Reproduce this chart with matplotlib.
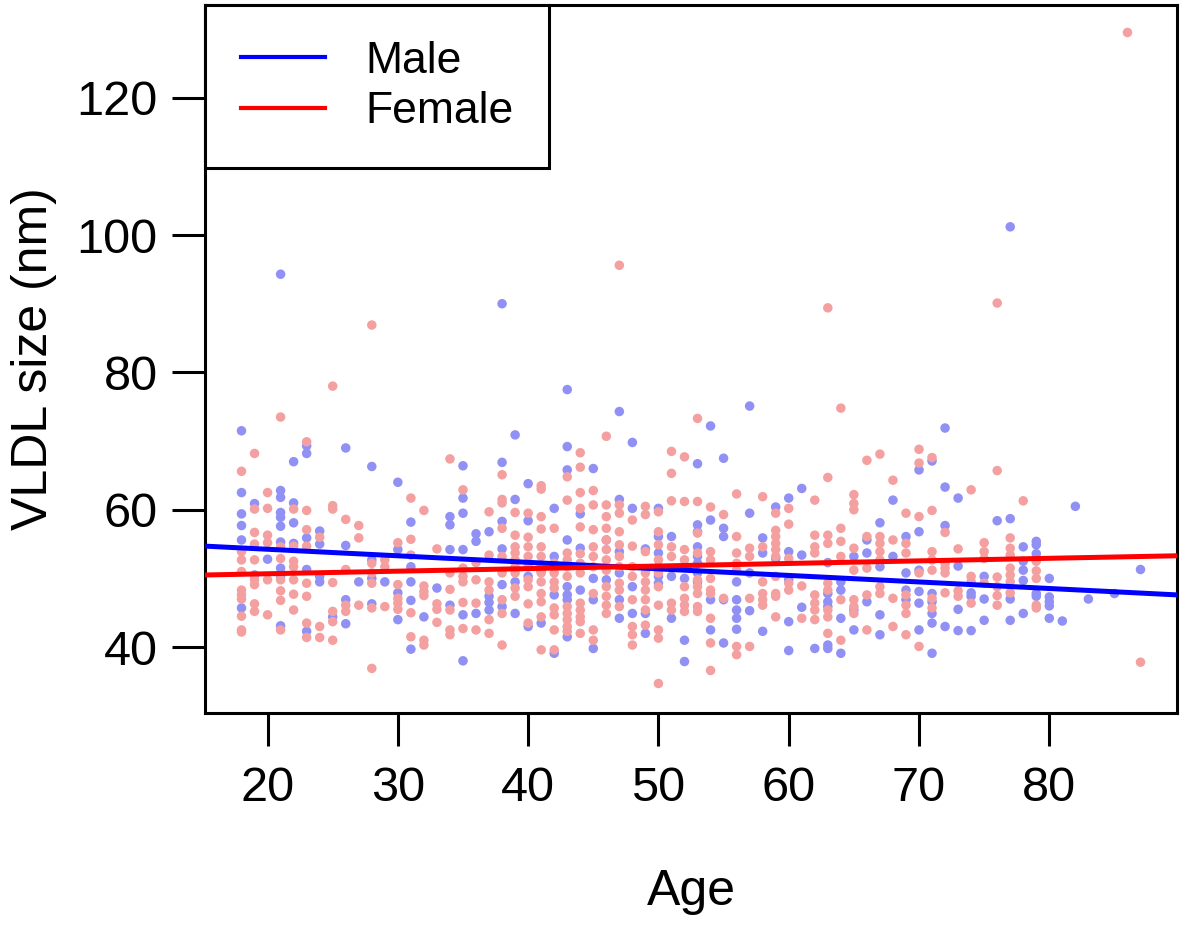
import matplotlib
matplotlib.use("Agg")
import matplotlib.pyplot as plt
from matplotlib.lines import Line2D

plt.rcParams["font.family"] = ["Liberation Sans", "DejaVu Sans"]

# VLDL size (nm) by age, one list per age
male = {
    18: [71.5, 62.5, 59.4, 57.7, 55.6, 45.7],
    19: [60.9, 50.5],
    20: [52.8],
    21: [94.3, 62.8, 61.8, 59.6, 58.9, 57.6, 55.3, 51.5, 50.3, 43.1],
    22: [67.0, 61.0, 58.1, 55.1],
    23: [69.3, 68.2, 55.9, 51.3, 42.3],
    24: [56.9, 55.0, 50.3, 49.5],
    25: [44.4],
    26: [69.0, 54.8, 46.9, 43.4],
    27: [49.5],
    28: [66.3, 52.7, 50.0, 46.3],
    29: [49.5],
    30: [64.0, 54.2, 47.9, 44.0],
    31: [58.2, 51.7, 49.5, 46.8, 39.7],
    32: [44.4],
    33: [48.6],
    34: [59.0, 57.8, 54.2, 46.1],
    35: [66.4, 61.7, 59.5, 54.2, 44.7, 38.0],
    36: [56.5, 55.4, 44.9],
    37: [56.8, 47.4, 46.5, 45.4],
    38: [90.0, 66.9, 58.3, 54.3, 49.1, 45.9],
    39: [70.9, 61.5, 49.5, 44.9],
    40: [63.8, 58.4, 50.3, 43.0],
    41: [51.0, 43.5],
    42: [60.2, 53.2, 47.6, 39.1],
    43: [77.5, 69.2, 65.8, 55.6, 48.8, 47.6, 46.9, 41.5],
    44: [59.4, 54.4, 48.3],
    45: [66.0, 50.0, 46.9, 39.8],
    46: [55.6, 49.8],
    47: [74.3, 61.5, 53.9, 50.8, 46.9, 44.2],
    48: [69.8, 60.2, 48.8, 44.9],
    49: [54.3, 44.9, 42.0],
    50: [60.2, 56.1, 53.7, 51.7, 50.3, 49.3],
    51: [56.1, 50.3, 44.2],
    52: [50.0, 41.0, 37.9],
    53: [66.7, 57.8, 56.8, 54.6, 53.2, 52.2, 50.8, 49.5],
    54: [72.2, 58.5, 46.9, 42.5],
    55: [67.5, 57.3, 56.1, 46.9, 40.6],
    56: [49.5, 46.9, 45.4, 44.2, 42.6],
    57: [75.1, 59.5, 50.8, 45.3],
    58: [55.9, 53.7, 42.3],
    59: [60.4, 52.9],
    60: [61.7, 53.9, 49.8, 43.7, 39.5],
    61: [63.1, 53.4, 45.8],
    62: [39.8],
    63: [52.3, 47.8, 46.6, 45.9, 40.3, 39.8],
    64: [49.5, 48.3, 44.2, 39.1],
    65: [53.2, 45.4, 42.5],
    66: [55.6, 53.7, 46.6],
    67: [58.1, 51.7, 44.7, 41.8],
    68: [61.4, 53.2],
    69: [56.1, 50.8, 48.3, 46.9],
    70: [65.8, 56.8, 51.2, 48.1, 46.4, 42.5],
    71: [67.1, 47.8, 46.6, 44.9, 43.5, 39.1],
    72: [71.9, 63.3, 57.7, 43.0],
    73: [61.7, 51.8, 45.5, 42.4],
    74: [47.9, 47.4, 42.4],
    75: [50.3, 47.0, 43.9],
    76: [58.4],
    77: [101.2, 58.7, 47.0, 43.9],
    78: [54.6, 52.5, 51.2, 49.7, 44.9],
    79: [55.4, 54.9, 53.6, 47.8, 47.4],
    80: [50.0, 47.3, 46.6, 46.0, 44.2],
    81: [43.8],
    82: [60.5],
    83: [47.0],
    85: [47.8],
    87: [51.3],
}

female = {
    18: [65.6, 53.9, 52.7, 51.0, 48.3, 47.6, 47.0, 44.5, 42.5, 42.2],
    19: [68.2, 60.1, 56.7, 55.0, 52.7, 49.8, 49.1, 46.3, 45.2],
    20: [62.5, 60.2, 56.3, 55.2, 49.8, 44.7],
    21: [73.5, 54.6, 52.9, 49.8, 48.2, 46.8, 42.5],
    22: [60.1, 54.7, 52.5, 51.7, 49.8, 47.7, 45.4],
    23: [69.9, 59.9, 57.1, 54.7, 49.3, 47.4, 43.5, 41.4],
    24: [56.0, 43.0, 41.4],
    25: [78.0, 60.6, 60.1, 49.4, 45.2, 43.7, 41.0],
    26: [58.6, 51.3, 46.1, 45.2],
    27: [57.7, 55.9, 46.1],
    28: [86.9, 52.2, 50.8, 49.3, 45.7, 36.9],
    29: [52.7, 51.7, 45.9],
    30: [55.2, 49.1, 47.1, 46.4, 45.5],
    31: [61.7, 55.7, 53.4, 45.0, 41.5],
    32: [59.9, 48.9, 48.1, 47.5, 41.0, 40.3],
    33: [54.3, 46.3, 45.5, 43.6],
    34: [67.4, 50.8, 48.4, 45.4, 42.5, 41.8],
    35: [62.9, 51.5, 50.3, 49.5, 46.5, 42.7],
    36: [52.3, 49.8, 46.4, 42.5],
    37: [59.7, 53.4, 49.5, 48.3, 44.0, 42.0],
    38: [65.1, 61.5, 61.0, 57.3, 53.2, 50.8, 46.9, 44.9, 40.3],
    39: [59.6, 56.3, 54.6, 53.7, 52.7, 51.7, 50.8, 48.6, 47.4],
    40: [59.5, 56.0, 54.6, 53.2, 51.7, 49.8, 48.8, 46.3, 43.5],
    41: [63.5, 63.0, 59.0, 57.2, 54.6, 53.2, 51.7, 50.8, 49.5, 47.8, 46.6, 44.4, 39.6],
    42: [57.3, 52.2, 50.8, 49.5, 48.6, 45.7, 44.7, 42.5, 39.6],
    43: [64.8, 61.4, 53.7, 52.7, 51.7, 50.3, 45.9, 44.9, 44.0, 43.0, 42.3],
    44: [68.3, 66.2, 62.5, 60.2, 57.5, 53.6, 52.2, 50.8, 46.4, 45.4, 44.4, 43.7, 42.0],
    45: [62.8, 60.7, 57.1, 54.6, 53.2, 51.7, 47.8, 42.5, 41.0],
    46: [70.7, 60.7, 59.0, 57.3, 55.6, 54.2, 52.7, 51.2, 48.8, 47.4, 46.1, 44.9],
    47: [95.6, 60.7, 59.5, 56.8, 54.9, 53.2, 51.7, 49.3, 48.3, 45.9],
    48: [58.5, 54.7, 51.7, 50.3, 46.9, 43.0, 41.8, 40.3],
    49: [60.5, 59.3, 53.9, 50.8, 49.5, 48.3, 46.9, 45.4, 43.2],
    50: [59.7, 56.8, 54.9, 52.7, 50.8, 48.8, 46.1, 42.5, 41.3, 34.7],
    51: [68.5, 65.3, 61.3, 54.6, 53.2, 46.4, 45.4],
    52: [67.7, 61.2, 54.2, 52.7, 48.8, 47.1, 46.1, 45.2],
    53: [73.3, 61.2, 56.6, 53.7, 49.8, 48.8, 47.8, 45.9, 45.2],
    54: [60.4, 53.9, 52.7, 50.0, 48.3, 47.8, 44.2, 40.6, 36.6],
    55: [59.3, 47.1],
    56: [62.3, 56.1, 53.7, 52.2, 51.2, 40.1, 38.9],
    57: [54.4, 53.2, 47.1, 40.1],
    58: [61.9, 54.6, 49.5, 47.8, 46.9, 46.1],
    59: [59.5, 57.0, 56.1, 55.1, 54.2, 53.2, 50.3, 47.8, 47.4, 44.4],
    60: [60.2, 57.9, 52.9, 49.3, 48.3],
    61: [48.9, 44.2],
    62: [61.4, 56.3, 54.6, 53.7, 47.6, 46.4, 45.4, 44.0],
    63: [89.4, 64.7, 56.3, 55.1, 49.3, 48.3, 45.4, 44.4, 42.0],
    64: [74.8, 57.3, 55.4, 53.2, 46.9, 41.0],
    65: [62.2, 60.9, 60.0, 54.4, 51.2, 46.9, 45.9, 44.9],
    66: [67.2, 56.1, 51.5, 47.6, 42.5],
    67: [68.1, 56.1, 55.1, 53.9, 52.7, 48.8, 47.8],
    68: [64.3, 55.6, 47.1, 43.0],
    69: [59.5, 55.1, 53.7, 47.6, 46.1, 44.9, 41.8],
    70: [68.8, 66.8, 59.0, 50.8, 40.1],
    71: [67.6, 59.9, 53.9, 52.7, 51.2, 47.1, 45.7],
    72: [56.7, 52.2, 51.5, 50.8, 47.9],
    73: [54.3, 48.2, 47.4],
    74: [62.9, 50.3, 49.5, 46.4],
    75: [55.2, 53.9, 52.9, 49.3],
    76: [90.1, 65.7, 50.2, 48.8, 47.5, 46.1],
    77: [55.9, 54.4, 53.4, 51.5, 50.5, 49.5, 47.9],
    78: [61.3],
    79: [52.5, 51.1, 50.0, 46.1, 45.7],
    86: [129.5],
    87: [37.8],
}

# linear fits (intercept, slope)
male_fit = (56.15, -0.0952)
female_fit = (49.93, 0.0375)

x_ticks = [20, 30, 40, 50, 60, 70, 80]
y_ticks = [40, 60, 80, 100, 120]


def flatten(d):
    xs, ys = [], []
    for age, vals in d.items():
        xs += [age] * len(vals)
        ys += vals
    return xs, ys


fig = plt.figure(figsize=(11.81, 9.26), dpi=100)
ax = fig.add_axes([0.1736, 0.23, 0.823, 0.7646])

mx, my = flatten(male)
fx, fy = flatten(female)
ax.scatter(mx, my, s=47, color="#9090F5", edgecolors="none", zorder=2)
ax.scatter(fx, fy, s=47, color="#F5A0A0", edgecolors="none", zorder=2)

ax.axline((0, male_fit[0]), slope=male_fit[1], color="#0000FF", lw=3.6, zorder=3)
ax.axline((0, female_fit[0]), slope=female_fit[1], color="#FF0000", lw=3.6, zorder=3)

ax.set_xlim(15.2, 89.8)
ax.set_ylim(30.4, 133.5)
ax.set_xticks(x_ticks)
ax.set_yticks(y_ticks)
ax.tick_params(direction="out", length=24, width=2.2, labelsize=35)
ax.tick_params(axis="x", pad=14)
ax.tick_params(axis="y", pad=10)
for sp in ax.spines.values():
    sp.set_linewidth(2.2)

ax.set_xlabel("Age", fontsize=36, labelpad=42)
ax.set_ylabel("VLDL size (nm)", fontsize=36, labelpad=14)

handles = [Line2D([], [], color="#0000FF", lw=3),
           Line2D([], [], color="#FF0000", lw=3)]
leg = ax.legend(handles, ["Male", "Female"], loc="upper left", fontsize=32,
                frameon=True, fancybox=False, framealpha=1, borderaxespad=0,
                borderpad=0.8, handlelength=1.9, handletextpad=0.9,
                labelspacing=0.22)
leg.get_frame().set_edgecolor("black")
leg.get_frame().set_linewidth(2.2)

fig.savefig("out.png", dpi=100)
